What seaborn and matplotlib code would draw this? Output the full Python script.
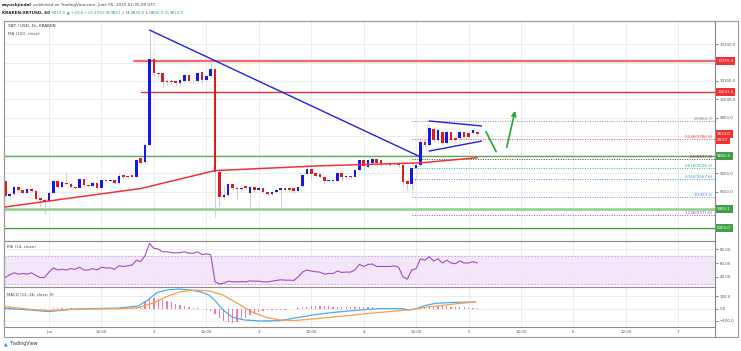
import numpy as np
import pandas as pd
import seaborn as sns
import matplotlib.pyplot as plt
import matplotlib.dates as mdates
from matplotlib.patches import Rectangle
from matplotlib.lines import Line2D

sns.set_theme(style="whitegrid", rc={
    "grid.color": "#e9e9e9", "grid.linewidth": 0.6,
    "axes.edgecolor": "#8e8e8e", "axes.linewidth": 0.8,
    "xtick.color": "#555555", "ytick.color": "#555555",
})
plt.rcParams["font.family"] = ["DejaVu Sans"]

# XBT/USD 1h candles (Kraken), first candle May 31 14:00
start = "2020-05-31 14:00"
opens = [9560, 9476, 9487, 9527, 9509, 9492, 9515, 9505, 9464, 9455,
         9450, 9494, 9556, 9527, 9549, 9543, 9527, 9522, 9568, 9534,
         9530, 9549, 9517, 9563, 9558, 9563, 9545, 9590, 9585, 9590,
         9581, 9682, 9662, 9753, 10219, 10141, 10141, 10100, 10098, 10100,
         10087, 10100, 10132, 10101, 10100, 10147, 10105, 10127, 10163, 9608,
         9469, 9482, 9541, 9518, 9513, 9531, 9493, 9525, 9509, 9518,
         9500, 9487, 9496, 9509, 9518, 9518, 9518, 9503, 9531, 9596,
         9622, 9603, 9594, 9581, 9558, 9560, 9560, 9603, 9578, 9585,
         9581, 9617, 9671, 9634, 9655, 9676, 9671, 9650, 9650, 9648,
         9657, 9644, 9558, 9541, 9626, 9644, 9771, 9753, 9838, 9780,
         9825, 9765, 9822, 9789, 9789, 9825, 9816, 9816, 9822]
closes = [9476, 9487, 9527, 9509, 9492, 9515, 9505, 9462, 9455, 9450,
          9494, 9556, 9527, 9550, 9543, 9527, 9522, 9568, 9534, 9530,
          9549, 9517, 9563, 9558, 9563, 9545, 9585, 9580, 9577, 9581,
          9672, 9657, 9753, 10219, 10141, 10136, 10096, 10094, 10094, 10087,
          10105, 10132, 10101, 10098, 10145, 10105, 10127, 10163, 9608, 9469,
          9482, 9541, 9518, 9513, 9520, 9518, 9525, 9509, 9520, 9500,
          9487, 9496, 9509, 9518, 9509, 9509, 9503, 9525, 9590, 9622,
          9596, 9585, 9581, 9558, 9560, 9562, 9603, 9581, 9585, 9581,
          9617, 9671, 9639, 9671, 9676, 9655, 9648, 9648, 9646, 9657,
          9644, 9554, 9541, 9626, 9644, 9771, 9753, 9843, 9780, 9834,
          9765, 9825, 9780, 9780, 9825, 9798, 9798, 9834, 9814]
highs = [9565, 9492, 9532, 9535, 9513, 9520, 9522, 9510, 9470, 9460,
         9498, 9560, 9560, 9555, 9608, 9549, 9530, 9572, 9571, 9540,
         9555, 9552, 9566, 9570, 9568, 9566, 9600, 9596, 9590, 9594,
         9676, 9690, 9758, 10376, 10225, 10150, 10146, 10108, 10110, 10106,
         10112, 10138, 10136, 10110, 10150, 10152, 10132, 10202, 10170, 9615,
         9530, 9548, 9546, 9525, 9528, 9538, 9530, 9530, 9526, 9522,
         9505, 9502, 9515, 9522, 9524, 9525, 9522, 9530, 9596, 9635,
         9630, 9608, 9600, 9585, 9566, 9568, 9608, 9606, 9590, 9590,
         9620, 9676, 9676, 9675, 9680, 9680, 9676, 9656, 9655, 9662,
         9662, 9650, 9565, 9630, 9655, 9780, 9790, 9862, 9848, 9840,
         9830, 9832, 9828, 9795, 9830, 9830, 9822, 9838, 9830]
lows = [9470, 9466, 9482, 9505, 9486, 9488, 9500, 9455, 9419, 9380,
        9445, 9490, 9522, 9522, 9538, 9522, 9516, 9518, 9528, 9525,
        9527, 9510, 9512, 9552, 9554, 9540, 9542, 9576, 9572, 9576,
        9578, 9650, 9655, 9745, 10130, 10120, 10069, 10080, 10085, 10075,
        10080, 10095, 10090, 10088, 10095, 10090, 10100, 10120, 9364, 9420,
        9460, 9478, 9510, 9455, 9505, 9512, 9419, 9500, 9503, 9492,
        9480, 9482, 9490, 9416, 9500, 9503, 9495, 9498, 9525, 9590,
        9563, 9578, 9575, 9540, 9550, 9554, 9555, 9560, 9572, 9575,
        9578, 9612, 9620, 9630, 9650, 9640, 9640, 9640, 9640, 9640,
        9630, 9530, 9505, 9510, 9620, 9640, 9740, 9745, 9770, 9765,
        9755, 9760, 9772, 9770, 9785, 9790, 9790, 9810, 9800]
rsi = [39.5, 43, 46, 44, 45, 44, 46, 42, 39, 39.5,
       47, 53, 50, 51, 50, 52, 51, 54, 50, 50,
       52, 50, 54, 53, 53, 51, 56, 55, 56, 57,
       64, 62, 71, 88, 81, 80, 76, 76, 75, 74.5,
       75, 76, 74, 74, 76, 72, 73, 72, 33, 30,
       31, 34, 33, 33, 33.5, 33, 34.5, 34, 34, 33,
       33, 34, 35, 36, 35.5, 35.5, 35, 40, 47, 50,
       48.5, 47.5, 47, 44, 45, 45, 48.5, 46.5, 47, 47,
       50, 58, 55, 58, 58.5, 55, 55, 55, 55, 56,
       54, 40, 37, 50, 52, 66, 64, 69, 63, 66,
       60, 64, 60, 59, 63, 60, 60, 62, 60]
macd_hist = [-8, -10, -8, -5, -8, -10, -10, -12, -12, -10,
             -6, 2, 3, 4, 4, 5, 4, 5, 3, 3,
             3, 2, 4, 4, 4, 3, 5, 4, 4, 3,
             8, 25, 50, 75, 84, 80, 72, 62, 50, 40,
             30, 22, 16, 8, 3, -5, -12, -20, -45, -75,
             -97, -110, -113, -108, -95, -75, -55, -40, -28, -20,
             -15, -12, -10, -10, -8, -6, -4, 3, 10, 15,
             18, 20, 20, 18, 18, 16, 15, 14, 12, 10,
             10, 12, 13, 12, 10, 8, 6, 5, 3, 2,
             0, -8, -12, -8, -2, 10, 14, 20, 22, 22,
             20, 20, 16, 14, 12, 10, 8, 6, 4]

# MA(100) and MACD lines, read at their bends (hours from start)
ma_hours = [0, 31, 48, 72, 95, 108]
ma_vals = [9417, 9517, 9614, 9640, 9656, 9684]
macd_hours = [0, 5.6, 9.9, 15.3, 20.7, 26.1, 30.4, 32.6, 34.7, 36.9,
              39.6, 42.3, 44.4, 46.6, 48.2, 49.8, 52, 54.7, 58.5, 62.8,
              66, 70.4, 74.7, 81.2, 85.5, 90.9, 92.5, 94.1, 95.7, 98.4,
              102.7, 107.6]
macd_vals = [3, -11, -24, -5, 0, 5, 22, 70, 130, 151,
             159, 151, 138, 111, 57, -11, -70, -92, -100, -97,
             -78, -51, -32, -11, 0, 0, -11, 0, 22, 43,
             51, 54]
signal_hours = [0, 5.6, 9.9, 15.3, 26.1, 30.4, 33.6, 36.9, 40.1, 43.4,
                46.6, 49.8, 53.1, 56.3, 59.6, 62.8, 66, 74.7, 83.3, 92,
                96.3, 102.7, 107.6]
signal_vals = [16, -5, -16, -5, 0, 8, 43, 97, 138, 151,
               143, 111, 43, -24, -70, -92, -97, -70, -38, -11,
               11, 38, 54]

# drawings
trend_hours = [33, 95]
trend_vals = [10376, 9688]
tri_hours = [97, 109]
tri_upper = [9883, 9856]
tri_lower = [9720, 9774]
zig_hours = [110, 112.3]
zig_vals = [9825, 9717]
arrow_hours = [114.6, 116.8]
arrow_vals = [9726, 9952]
fib_names = ["0", "0.236", "0.5", "0.618", "0.764", "1", "1.236"]
fib_vals = [9884.7, 9786.8, 9677.3, 9628.3, 9567.6, 9469.6, 9371.6]
fib_colors = ["#8a8a8a", "#e8474f", "#7a2d2d", "#2fb58c", "#4a8fd0", "#5b8fe0", "#9b4fd0"]
fib_from = 93
res_levels = [10209.3, 10041.5]
res_from = [29.5, 31]
sup_levels = [9692.3, 9405.1, 9303.0]
price_ticks = [9300, 9400, 9500, 9600, 9700, 9800, 9900, 10000, 10100, 10200, 10300]
# ticks hidden behind the coloured price boxes keep their gridline only
price_labels = ["", "", "9500.0", "9600.0", "", "", "9900.0", "10000.0", "10100.0", "", "10300.0"]
time_labels = ["Jun", "12:00", "2", "12:00", "3", "12:00", "4", "12:00", "5", "12:00", "6", "12:00", "7"]

blue_c = "#1818e6"
red_c = "#e01a1a"
W, H = 741, 351
t0 = pd.Timestamp(start)


def at(h):
    return mdates.date2num(t0 + pd.Timedelta(hours=h))


def box(l, t, r, b):
    return [l / W, 1 - b / H, (r - l) / W, (b - t) / H]


df = pd.DataFrame({"open": opens, "high": highs, "low": lows, "close": closes,
                   "rsi": rsi, "hist": macd_hist})
df["t"] = [at(h) for h in range(len(df))]

fig = plt.figure(figsize=(W / 100, H / 100), dpi=100)
ax = fig.add_axes(box(4, 21, 715, 240.7))
ax_rsi = fig.add_axes(box(4, 240.7, 715, 286.7), sharex=ax)
ax_macd = fig.add_axes(box(4, 286.7, 715, 327), sharex=ax)

# candles
up = df["close"] >= df["open"]
body_lo = df[["open", "close"]].min(axis=1)
body_h = (df["close"] - df["open"]).abs().clip(lower=4)
ax.vlines(df["t"], df["low"], df["high"], color="#c6c6c6", lw=0.6, zorder=2)
ax.bar(df["t"], body_h, bottom=body_lo, width=0.6 / 24,
       color=np.where(up, blue_c, red_c), lw=0, zorder=3)

right = at(162.4)
sns.lineplot(x=[at(h) for h in ma_hours], y=ma_vals, ax=ax, color="#f03434", lw=1.1, zorder=4)
ax.plot([at(h) for h in trend_hours], trend_vals, color="#2020e8", lw=1.0, zorder=4)
ax.plot([at(h) for h in tri_hours], tri_upper, color="#2020e8", lw=1.0, zorder=4)
ax.plot([at(h) for h in tri_hours], tri_lower, color="#2020e8", lw=1.0, zorder=4)
ax.plot([at(h) for h in zig_hours], zig_vals, color="#1fa82a", lw=1.2, zorder=4)
ax.annotate("", xy=(at(arrow_hours[1]), arrow_vals[1]), xytext=(at(arrow_hours[0]), arrow_vals[0]),
            arrowprops=dict(arrowstyle="->", color="#1fa82a", lw=1.2, mutation_scale=7), zorder=4)

ax.plot([at(res_from[0]), right], [res_levels[0]] * 2, color="#f46a6a", lw=1.6, zorder=1)
ax.plot([at(res_from[1]), right], [res_levels[1]] * 2, color="#e53030", lw=1.0, zorder=1)
ax.axhline(sup_levels[0], color="#4caf50", lw=0.9, zorder=1)
ax.axhline(sup_levels[1], color="#8fcf8f", lw=1.8, zorder=1)
ax.axhline(sup_levels[2], color="#3fa03f", lw=0.9, zorder=1)

# fib retracement
ax.plot([at(fib_from), at(fib_from + 4)], [fib_vals[5], fib_vals[0]], color="#b0b0b0", lw=0.6, ls=(0, (1, 1.5)))
for name, v, c in zip(fib_names, fib_vals, fib_colors):
    ax.plot([at(fib_from), right], [v, v], color=c, lw=0.7, ls=(0, (1, 1.5)), zorder=1)
    ax.text(0.997, v, f"{name}({v:.1f})", transform=ax.get_yaxis_transform(),
            ha="right", va="bottom", fontsize=2.9, color=c)

ax.set_ylim(9234, 10425)
ax.set_yticks(price_ticks)
ax.set_yticklabels(price_labels)
ax.text(0.005, 0.975, "XBT / USD, 1h, KRAKEN", transform=ax.transAxes, fontsize=3.0, color="#333333", va="center")
ax.text(0.005, 0.94, "MA (100, close)", transform=ax.transAxes, fontsize=3.0, color="#555555", va="center")

# price boxes on the scale
boxes = [(10209.3, "10209.3", "#f23030"), (10041.5, "10041.5", "#f23030"),
         (9814.0, "9814.0", "#f23030"), (9781.0, "24:57", "#f23030"),
         (9692.3, "9692.3", "#3ea043"), (9405.1, "9405.1", "#3ea043"),
         (9303.0, "9303.0", "#3ea043")]
for v, s, c in boxes:
    ax.text(1.003, v, s, transform=ax.get_yaxis_transform(), ha="left", va="center",
            fontsize=2.9, color="white", clip_on=False, zorder=10,
            bbox=dict(boxstyle="square,pad=0.45", fc=c, ec="none"))

# RSI
ax_rsi.axhspan(30, 70, color="#f3e6fb", zorder=0)
for lv in (30, 70):
    ax_rsi.axhline(lv, color="#c3a6d6", lw=0.6, ls=(0, (2, 2)))
sns.lineplot(x=df["t"], y=df["rsi"], ax=ax_rsi, color="#a24bc8", lw=0.8)
ax_rsi.set_ylim(26.1, 91.9)
ax_rsi.set_yticks([40, 60, 80])
ax_rsi.set_yticklabels(["40.00", "60.00", "80.00"])
ax_rsi.text(0.004, 0.86, "RSI (14, close)", transform=ax_rsi.transAxes, fontsize=2.9, color="#444444", va="center")

# MACD
ax_macd.bar(df["t"], df["hist"], width=0.3 / 24, color="#f07aa8", lw=0, zorder=2)
sns.lineplot(x=[at(h) for h in macd_hours], y=macd_vals, ax=ax_macd, color="#48acf2", lw=0.9, zorder=3)
sns.lineplot(x=[at(h) for h in signal_hours], y=signal_vals, ax=ax_macd, color="#f5a04a", lw=0.9, zorder=3)
ax_macd.set_ylim(-149, 178)
ax_macd.set_yticks([-100, 0, 100])
ax_macd.set_yticklabels(["\u2212100.0", "0.0", "100.0"])
ax_macd.text(0.004, 0.79, "MACD (12, 26, close, 9)", transform=ax_macd.transAxes, fontsize=2.9, color="#444444", va="center")

ax.set_xlim(at(-0.3), right)
ax_macd.set_xticks([at(10 + 12 * k) for k in range(len(time_labels))])
ax_macd.set_xticklabels(time_labels)

for a in (ax, ax_rsi, ax_macd):
    a.set_xlabel("")
    a.set_ylabel("")
    a.yaxis.tick_right()
    a.tick_params(axis="y", right=True, left=False, labelright=True, labelleft=False,
                  length=2, width=0.5, pad=1.5, labelsize=2.9, colors="#555555")
    a.tick_params(axis="x", bottom=False, length=0, labelsize=2.9, pad=2.2, colors="#555555")
    for sp in a.spines.values():
        sp.set_color("#8e8e8e")
        sp.set_linewidth(0.8)
ax.tick_params(axis="x", labelbottom=False)
ax_rsi.tick_params(axis="x", labelbottom=False)

# frame and header
fig.add_artist(Rectangle((4 / W, 1 - 337 / H), 734 / W, 316 / H, fill=False,
                         ec="#9a9a9a", lw=0.8, transform=fig.transFigure))
fig.add_artist(Line2D([715 / W] * 2, [1 - 21 / H, 1 - 337 / H], color="#8e8e8e", lw=0.8))

renderer = fig.canvas.get_renderer()


def run_text(x, y, pieces, size=3.0):
    for s, col, wt in pieces:
        t = fig.text(x / W, 1 - y / H, s, color=col, fontsize=size, fontweight=wt, va="center")
        x += t.get_window_extent(renderer).width


teal = "#26a69a"
run_text(2, 5, [("aayushjindal", "#222222", "bold"),
                (" published on TradingView.com, June 05, 2020 02:35:09 UTC", "#444444", "normal")])
run_text(2, 13, [("KRAKEN:XBTUSD, 60", "#222222", "bold"),
                 (" 9814.0 \u25b2 +22.6 (+0.23%)", teal, "normal"),
                 (" O:", "#333333", "normal"), ("9822.1", teal, "normal"),
                 (" H:", "#333333", "normal"), ("9830.0", teal, "normal"),
                 (" L:", "#333333", "normal"), ("9800.0", teal, "normal"),
                 (" C:", "#333333", "normal"), ("9814.0", teal, "normal")])
fig.text(4 / W, 1 - 344 / H, "\u25b2", color="#2196f3", fontsize=3.5, va="center")
fig.text(10 / W, 1 - 344 / H, "TradingView", color="#333333", fontsize=3.4, va="center")

fig.savefig("out.png", dpi=100)
